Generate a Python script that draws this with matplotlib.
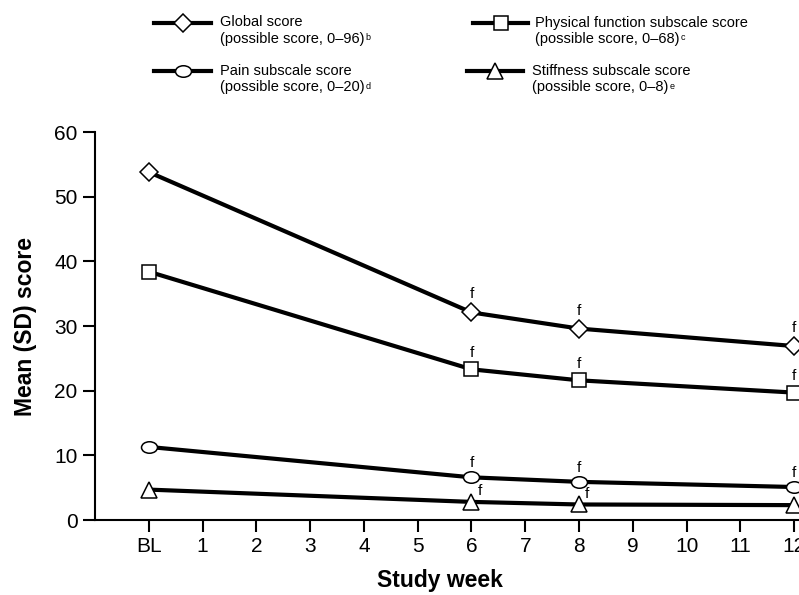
import matplotlib
matplotlib.use("Agg")
import matplotlib.pyplot as plt
from matplotlib.path import Path
from matplotlib.transforms import Affine2D

plt.rcParams["font.family"] = ["Liberation Sans", "DejaVu Sans"]
plt.rcParams["mathtext.fontset"] = "custom"
plt.rcParams["mathtext.rm"] = "Liberation Sans"

# Data
weeks = [0, 6, 8, 12]
tick_pos = list(range(13))
tick_labels = ["BL"] + [str(i) for i in range(1, 13)]

global_score = [53.8, 32.1, 29.6, 26.9]
physical_score = [38.4, 23.3, 21.6, 19.7]
pain_score = [11.3, 6.6, 5.9, 5.1]
stiffness_score = [4.7, 2.8, 2.4, 2.3]

names = ["Global score", "Physical function subscale score",
         "Pain subscale score", "Stiffness subscale score"]
ranges = ["(possible score, 0\u201396)", "(possible score, 0\u201368)",
          "(possible score, 0\u201320)", "(possible score, 0\u20138)"]
sups = ["b", "c", "d", "e"]

# flattened circle, like in the original
ellipse = Path.unit_circle().transformed(Affine2D().scale(1, 0.72))

series = [
    (global_score, "D", 9, (0, 13)),
    (physical_score, "s", 10, (0, 12)),
    (pain_score, ellipse, 11.5, (0, 10)),
    (stiffness_score, "^", 12, (6, 7.5)),
]

fig = plt.figure(figsize=(7.99, 5.95), dpi=100)
ax = fig.add_axes([95 / 799, 75 / 595, 704 / 799, 388 / 595])

for vals, mk, ms, off in series:
    ax.plot(weeks, vals, color="black", lw=3.0, zorder=2)
    ax.plot(weeks, vals, ls="none", marker=mk, ms=ms, mfc="white",
            mec="black", mew=1.1, zorder=3)
    # significance marks at weeks 6, 8, 12
    for w, v in zip(weeks[1:], vals[1:]):
        ax.annotate("f", (w, v), xytext=off, textcoords="offset points",
                    ha="center", va="center", fontsize=11, zorder=4)

ax.set_xlim(-1.0, 12.09)
ax.set_ylim(0, 60)
ax.set_yticks(range(0, 61, 10))
ax.set_xticks(tick_pos)
ax.set_xticklabels(tick_labels)
ax.spines["top"].set_visible(False)
ax.spines["right"].set_visible(False)
ax.spines["left"].set_linewidth(1.5)
ax.spines["bottom"].set_linewidth(1.5)
ax.tick_params(labelsize=15, length=8.5, width=1.5, pad=4)

ax.set_xlabel("Study week", fontsize=16.5, fontweight="bold", va="center")
ax.xaxis.set_label_coords(0.49, -0.155)
ax.set_ylabel("Mean (SD) score", fontsize=16.5, fontweight="bold", va="center")
ax.yaxis.set_label_coords(-0.099, 0.5)

# Legend drawn by hand at the top, in pixel units of the figure
lg = fig.add_axes([0, 0, 1, 1])
lg.set_xlim(0, 799)
lg.set_ylim(595, 0)
lg.axis("off")
line_x = [(154, 211), (473, 528), (154, 211), (467, 523)]
text_x = [220, 535, 220, 532]
row_y = [22.5, 22.5, 71, 71]
for i, (vals, mk, ms, off) in enumerate(series):
    x0, x1 = line_x[i]
    y = row_y[i]
    lg.plot([x0, x1], [y, y], color="black", lw=3.0, zorder=2)
    lg.plot([(x0 + x1) / 2], [y], ls="none", marker=mk, ms=ms, mfc="white",
            mec="black", mew=1.1, zorder=3)
    lg.text(text_x[i], y, names[i], fontsize=10.5, va="center", ha="left")
    lg.text(text_x[i], y + 16.5, ranges[i], fontsize=10.5, va="center",
            ha="left")
    # small superscript footnote letter after the range text
    t = lg.text(0, 0, ranges[i], fontsize=10.5)
    fig.canvas.draw()
    bb = t.get_window_extent()
    t.remove()
    lg.text(text_x[i] + bb.width + 1, y + 15.5, sups[i], fontsize=6.5,
            va="center", ha="left")

fig.savefig("out.png", dpi=100)
